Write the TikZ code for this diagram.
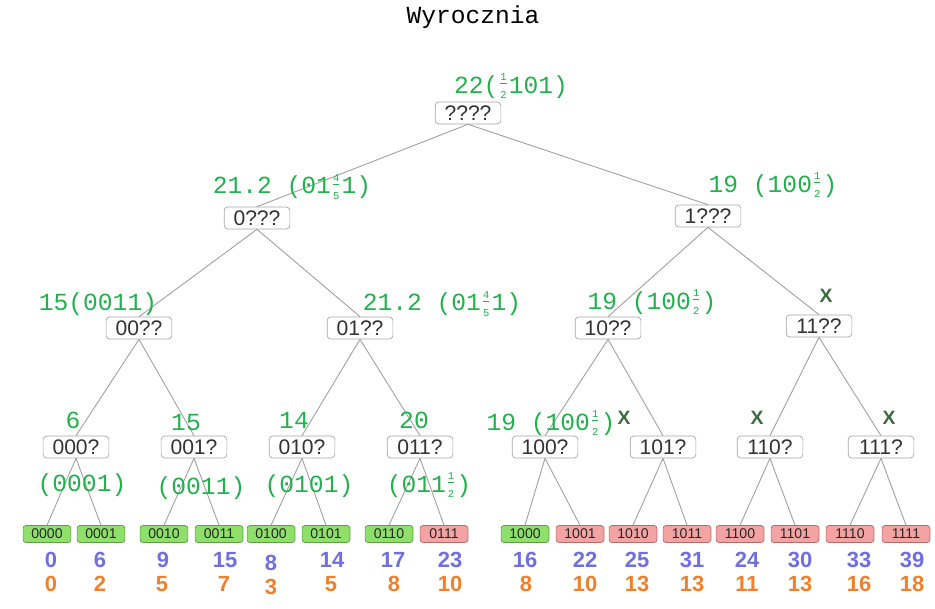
\documentclass[tikz,border=0pt]{standalone}
\usepackage{fontspec}
\setmainfont{Liberation Sans}
\newfontfamily\monofont{Liberation Mono}

\definecolor{scoregreen}{HTML}{22B14C}
\definecolor{crossgreen}{HTML}{3D6B40}
\definecolor{leafgreen}{HTML}{8EE06A}
\definecolor{leafgreenline}{HTML}{5E9E45}
\definecolor{leafred}{HTML}{F4A3A3}
\definecolor{leafredline}{HTML}{B86A6A}
\definecolor{cntblue}{HTML}{6F6FE0}
\definecolor{costorange}{HTML}{F0802A}

% small stacked fraction inside the green scores
\newcommand\fr[2]{\raisebox{0.12em}{\ensuremath{\frac{\mbox{\fontsize{6}{6}\selectfont #1}}{\mbox{\fontsize{6}{6}\selectfont #2}}}}}

\tikzset{
    qbox/.style={draw=gray!70, rounded corners=2pt, fill=white, text=black!80,
        font=\fontsize{12}{12}\selectfont, minimum width=37.4pt, minimum height=12.5pt, inner sep=1pt},
    leafok/.style={draw=leafgreenline, fill=leafgreen, rounded corners=1.5pt, text=black!85,
        font=\fontsize{8}{8}\selectfont, minimum width=27.2pt, minimum height=9.6pt, inner sep=0.5pt},
    leafno/.style={leafok, draw=leafredline, fill=leafred},
    score/.style={text=scoregreen, font=\monofont\fontsize{14}{14}\selectfont, inner sep=0pt},
    cross/.style={text=crossgreen, font=\bfseries\fontsize{11}{11}\selectfont, inner sep=0pt},
    cnt/.style={text=cntblue, font=\bfseries\fontsize{12.5}{12.5}\selectfont, inner sep=0pt},
    cost/.style={text=costorange, font=\bfseries\fontsize{12.5}{12.5}\selectfont, inner sep=0pt},
    edge/.style={draw=gray!75, line width=0.5pt}
}

\begin{document}
\begin{tikzpicture}[x=0.02cm, y=-0.02cm]
    \useasboundingbox (0,0) rectangle (935,608);

    % Title
    \node[font=\monofont\fontsize{14}{14}\selectfont] (title) at (473,17) {Wyrocznia};

    % Inner nodes
    \node[qbox] (r) at (468,113) {????};
    \node[qbox] (n0) at (257,218) {0???};
    \node[qbox] (n1) at (708,216) {1???};
    \node[qbox] (n00) at (139,328) {00??};
    \node[qbox] (n01) at (360,328) {01??};
    \node[qbox] (n10) at (608,328) {10??};
    \node[qbox] (n11) at (819,326) {11??};
    \node[qbox] (n000) at (76,447) {000?};
    \node[qbox] (n001) at (194,447) {001?};
    \node[qbox] (n010) at (302,447) {010?};
    \node[qbox] (n011) at (420,447) {011?};
    \node[qbox] (n100) at (545,447) {100?};
    \node[qbox] (n101) at (663,447) {101?};
    \node[qbox] (n110) at (770,447) {110?};
    \node[qbox] (n111) at (881,447) {111?};

    % Leaves
    \node[leafok] (l0000) at (47,534) {0000};
    \node[leafok] (l0001) at (101,534) {0001};
    \node[leafok] (l0010) at (164,534) {0010};
    \node[leafok] (l0011) at (219,534) {0011};
    \node[leafok] (l0100) at (271,534) {0100};
    \node[leafok] (l0101) at (326,534) {0101};
    \node[leafok] (l0110) at (389,534) {0110};
    \node[leafno] (l0111) at (444,534) {0111};
    \node[leafok] (l1000) at (525,534) {1000};
    \node[leafno] (l1001) at (580,534) {1001};
    \node[leafno] (l1010) at (633,534) {1010};
    \node[leafno] (l1011) at (687,534) {1011};
    \node[leafno] (l1100) at (740,534) {1100};
    \node[leafno] (l1101) at (795,534) {1101};
    \node[leafno] (l1110) at (850,534) {1110};
    \node[leafno] (l1111) at (906,534) {1111};

    % Edges
    \draw[edge] (r.south) -- (n0.north);
    \draw[edge] (r.south) -- (n1.north);
    \draw[edge] (n0.south) -- (n00.north);
    \draw[edge] (n0.south) -- (n01.north);
    \draw[edge] (n1.south) -- (n10.north);
    \draw[edge] (n1.south) -- (n11.north);
    \draw[edge] (n00.south) -- (n000.north);
    \draw[edge] (n00.south) -- (n001.north);
    \draw[edge] (n01.south) -- (n010.north);
    \draw[edge] (n01.south) -- (n011.north);
    \draw[edge] (n10.south) -- (n100.north);
    \draw[edge] (n10.south) -- (n101.north);
    \draw[edge] (n11.south) -- (n110.north);
    \draw[edge] (n11.south) -- (n111.north);
    \draw[edge] (n000.south) -- (l0000.north);
    \draw[edge] (n000.south) -- (l0001.north);
    \draw[edge] (n001.south) -- (l0010.north);
    \draw[edge] (n001.south) -- (l0011.north);
    \draw[edge] (n010.south) -- (l0100.north);
    \draw[edge] (n010.south) -- (l0101.north);
    \draw[edge] (n011.south) -- (l0110.north);
    \draw[edge] (n011.south) -- (l0111.north);
    \draw[edge] (n100.south) -- (l1000.north);
    \draw[edge] (n100.south) -- (l1001.north);
    \draw[edge] (n101.south) -- (l1010.north);
    \draw[edge] (n101.south) -- (l1011.north);
    \draw[edge] (n110.south) -- (l1100.north);
    \draw[edge] (n110.south) -- (l1101.north);
    \draw[edge] (n111.south) -- (l1110.north);
    \draw[edge] (n111.south) -- (l1111.north);

    % Green scores
    \node[score] (sr) at (511,86) {22(\fr{1}{2}101)};
    \node[score] (s0) at (292,187) {21.2 (01\fr{4}{5}1)};
    \node[score] (s1) at (773,185) {19 (100\fr{1}{2})};
    \node[score] (s00) at (98,304) {15(0011)};
    \node[score] (s01) at (442,304) {21.2 (01\fr{4}{5}1)};
    \node[score] (s10) at (652,302) {19 (100\fr{1}{2})};
    \node[score] (s000) at (73,420) {6};
    \node[score] (s001) at (186,423) {15};
    \node[score] (s010) at (294,420) {14};
    \node[score] (s011) at (414,420) {20};
    \node[score] (s100) at (551,423) {19 (100\fr{1}{2})};
    \node[score] (b000) at (82,485) {(0001)};
    \node[score] (b001) at (201,488) {(0011)};
    \node[score] (b010) at (309,486) {(0101)};
    \node[score] (b011) at (429,485) {(011\fr{1}{2})};

    % Cut branches
    \node[cross] (x11) at (826,296) {X};
    \node[cross] (x101) at (624,418) {X};
    \node[cross] (x110) at (757,418) {X};
    \node[cross] (x111) at (889,418) {X};

    % Counts (blue) and costs (orange)
    \node[cnt] (c0000) at (51,560) {0};
    \node[cnt] (c0001) at (100,560) {6};
    \node[cnt] (c0010) at (163,560) {9};
    \node[cnt] (c0011) at (225,560) {15};
    \node[cnt] (c0100) at (271,563) {8};
    \node[cnt] (c0101) at (332,560) {14};
    \node[cnt] (c0110) at (393,560) {17};
    \node[cnt] (c0111) at (450,560) {23};
    \node[cnt] (c1000) at (525,560) {16};
    \node[cnt] (c1001) at (585,560) {22};
    \node[cnt] (c1010) at (637,560) {25};
    \node[cnt] (c1011) at (692,560) {31};
    \node[cnt] (c1100) at (747,560) {24};
    \node[cnt] (c1101) at (800,560) {30};
    \node[cnt] (c1110) at (859,560) {33};
    \node[cnt] (c1111) at (912,560) {39};

    \node[cost] (k0000) at (51,584) {0};
    \node[cost] (k0001) at (100,584) {2};
    \node[cost] (k0010) at (162,584) {5};
    \node[cost] (k0011) at (224,584) {7};
    \node[cost] (k0100) at (271,587) {3};
    \node[cost] (k0101) at (331,584) {5};
    \node[cost] (k0110) at (394,584) {8};
    \node[cost] (k0111) at (450,584) {10};
    \node[cost] (k1000) at (526,584) {8};
    \node[cost] (k1001) at (585,584) {10};
    \node[cost] (k1010) at (637,584) {13};
    \node[cost] (k1011) at (692,584) {13};
    \node[cost] (k1100) at (747,584) {11};
    \node[cost] (k1101) at (800,584) {13};
    \node[cost] (k1110) at (859,584) {16};
    \node[cost] (k1111) at (912,584) {18};
\end{tikzpicture}
\end{document}
